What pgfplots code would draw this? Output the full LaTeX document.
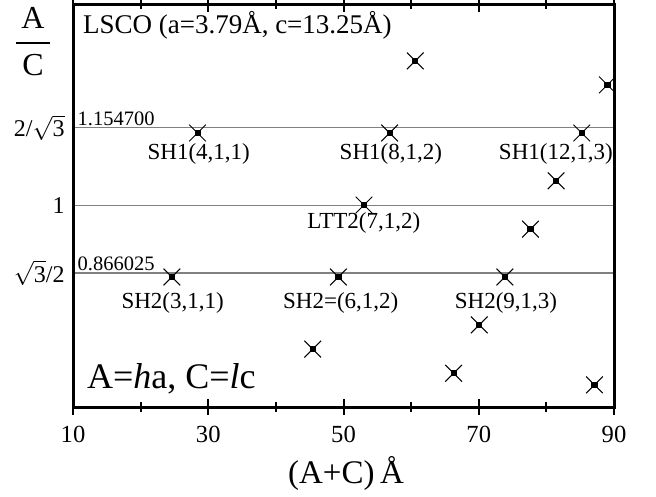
\documentclass[border=0pt]{standalone}
\usepackage{amsmath}
\usepackage{pgfplots}
\pgfplotsset{compat=1.18}
\usepackage{pgfplotstable}
\usepackage{fontspec}
\setmainfont{Liberation Serif}

\pgfplotstableread{
x y
24.62 0.858
28.41 1.144
45.45 0.715
49.24 0.858
53.03 1.001
56.82 1.144
60.61 1.287
66.28 0.667
70.07 0.763
73.86 0.858
77.65 0.953
81.44 1.049
85.23 1.144
87.11 0.644
89.02 1.2395
}\pts

\begin{document}
\begin{tikzpicture}
\path[use as bounding box] (-36.5pt,-44.5pt) rectangle (291.5pt,203.5pt);
\begin{axis}[
  at={(0,0)}, anchor=south west,
  scale only axis, width=270.5pt, height=201.5pt,
  xmin=10, xmax=90, ymin=0.6, ymax=1.4,
  axis line style={line width=1.5pt},
  xtick={10,30,50,70,90}, xticklabels={10,30,50,70,90},
  minor xtick={20,40,60,80},
  tick align=center,
  major tick length=8pt, minor tick length=5pt,
  xtick style={line width=1pt, black},
  ytick={0.866025,1,1.154700},
  yticklabels={$\sqrt{\mbox{3}}$/2,1,2/$\sqrt{\mbox{3}}$},
  ytick style={draw=none},
  ymajorgrids, major grid style={gray, line width=0.6pt},
  xticklabel style={font=\fontsize{12.3}{14}\selectfont, anchor=base, inner sep=0pt, yshift=-13.5pt},
  yticklabel style={font=\fontsize{12}{14}\selectfont, anchor=east, inner sep=0pt, xshift=0pt},
  xlabel={(A+C)\,Å},
  xlabel style={at={(axis description cs:0.5046,0)}, anchor=base, inner sep=0pt, yshift=-38pt, font=\fontsize{16.5}{19}\selectfont},
  ylabel={$\genfrac{}{}{1.1pt}{0}{\mbox{\,A\,}}{\mbox{\,C\,}}$},
  ylabel style={rotate=-90, at={(axis description cs:-0.0739,0.9065)}, anchor=center, inner sep=0pt, font=\fontsize{16}{19}\selectfont},
  clip=true,
]
\addplot[only marks, mark=x, mark size=5.9pt, mark options={line width=0.5pt, black}] table {\pts};
\addplot[only marks, mark=square*, mark size=1.3pt, mark options={black}] table {\pts};

\node[anchor=base west, inner sep=0pt, font=\fontsize{13.5}{15}\selectfont] at (axis cs:11.43,1.3408) {LSCO (a=3.79Å, c=13.25Å)};
\node[anchor=base west, inner sep=0pt, font=\fontsize{10.25}{12}\selectfont, yshift=1.2pt] at (axis cs:10.64,1.1547) {1.154700};
\node[anchor=base west, inner sep=0pt, font=\fontsize{10.25}{12}\selectfont, yshift=1.2pt] at (axis cs:10.64,0.866025) {0.866025};

\node[anchor=base, inner sep=0pt, font=\fontsize{11.5}{13}\selectfont] at (axis cs:28.6,1.0911) {SH1(4,1,1)};
\node[anchor=base, inner sep=0pt, font=\fontsize{11.5}{13}\selectfont] at (axis cs:57.0,1.0911) {SH1(8,1,2)};
\node[anchor=base, inner sep=0pt, font=\fontsize{11.5}{13}\selectfont] at (axis cs:81.4,1.0911) {SH1(12,1,3)};
\node[anchor=base, inner sep=0pt, font=\fontsize{11.5}{13}\selectfont] at (axis cs:53.0,0.955) {LTT2(7,1,2)};
\node[anchor=base, inner sep=0pt, font=\fontsize{11.5}{13}\selectfont] at (axis cs:24.74,0.7955) {SH2(3,1,1)};
\node[anchor=base, inner sep=0pt, font=\fontsize{11.5}{13}\selectfont] at (axis cs:49.59,0.7955) {SH2=(6,1,2)};
\node[anchor=base, inner sep=0pt, font=\fontsize{11.5}{13}\selectfont] at (axis cs:74.03,0.7955) {SH2(9,1,3)};

\node[anchor=base west, inner sep=0pt, font=\fontsize{18}{21}\selectfont] at (axis cs:12.03,0.6367) {A=\textit{h}a, C=\textit{l}c};
\end{axis}
\end{tikzpicture}
\end{document}
